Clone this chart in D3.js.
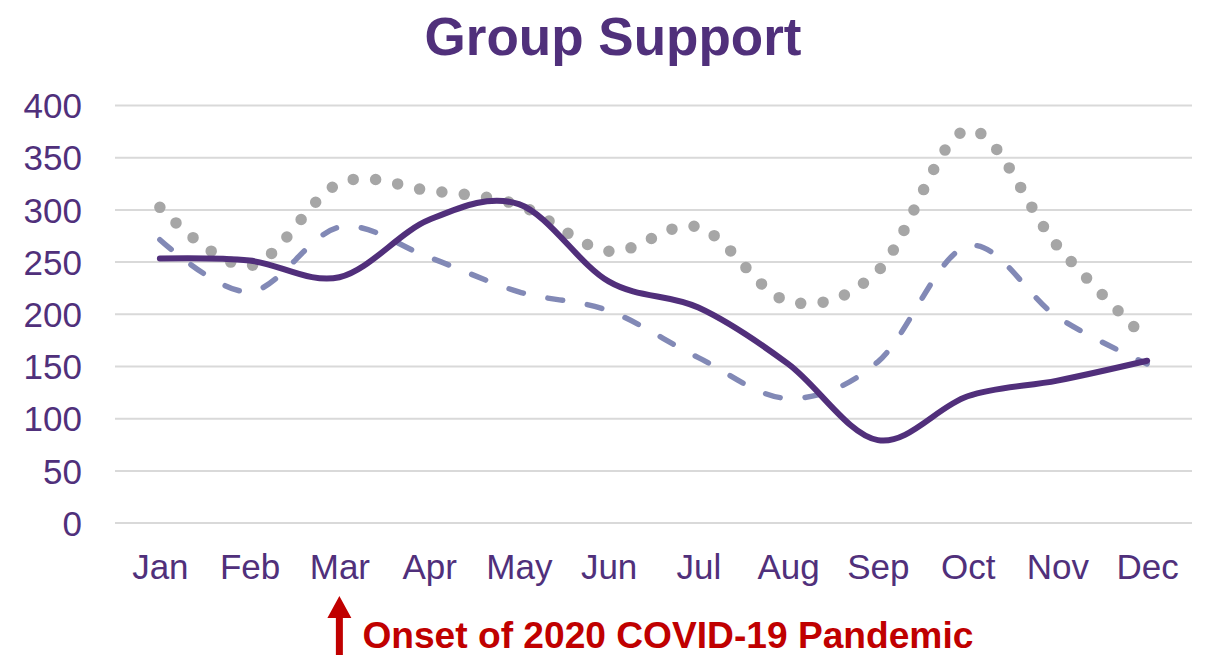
<!DOCTYPE html>
<html>
<head>
<meta charset="utf-8">
<script src="https://cdn.jsdelivr.net/npm/d3@7"></script>
<style>
    body { margin: 0; background: #ffffff; }
    svg { display: block; font-family: "Liberation Sans", Arial, sans-serif; }
</style>
</head>
<body>
<div id="line-viz"></div>
<script>
// chart data
const months = ["Jan", "Feb", "Mar", "Apr", "May", "Jun", "Jul", "Aug", "Sep", "Oct", "Nov", "Dec"];
const solidValues = [253, 251, 235, 290, 305, 231, 206, 152, 79, 121, 136, 155];
const dashedValues = [271, 221, 283, 254, 221, 203, 158, 119, 154, 265, 197, 152];
const dottedValues = [302, 246, 325, 318, 304, 260, 283, 212, 241, 376, 265, 175];
const yTicks = [0, 50, 100, 150, 200, 250, 300, 350, 400];

const lineChart = () => {

    // set the dimensions of the graph
    const width = 1212;
    const height = 655;
    const plotLeft = 115;
    const plotRight = 1192;
    const plotTop = 105;
    const plotBottom = 522.6;
    const textColor = "#50307b";

    const svg = d3.select("#line-viz")
        .append("svg")
        .attr("width", width)
        .attr("height", height);

    // scales
    const x = d3.scalePoint()
        .domain(months)
        .range([plotLeft, plotRight])
        .padding(0.5);

    const y = d3.scaleLinear()
        .domain([0, 400])
        .range([plotBottom, plotTop]);

    // horizontal gridlines + y labels
    const yAxis = d3.axisLeft(y)
        .tickValues(yTicks)
        .tickSize(-(plotRight - plotLeft))
        .tickPadding(33);

    svg.append("g")
        .attr("transform", `translate(${plotLeft},0)`)
        .call(yAxis)
        .call(g => g.select(".domain").remove())
        .call(g => g.selectAll(".tick line")
            .attr("stroke", "#d9d9d9")
            .attr("stroke-width", 2))
        .call(g => g.selectAll(".tick text")
            .attr("fill", textColor)
            .attr("font-size", 35)
            .attr("dy", "0.36em"));

    // month labels
    const xAxis = d3.axisBottom(x).tickSize(0).tickPadding(0);

    svg.append("g")
        .attr("transform", `translate(0,${plotBottom})`)
        .call(xAxis)
        .call(g => g.select(".domain").remove())
        .call(g => g.selectAll(".tick text")
            .attr("fill", textColor)
            .attr("font-size", 35)
            .attr("dy", 56));

    // smoothed lines (excel-like smoothing)
    const line = d3.line()
        .x((d, i) => x(months[i]))
        .y(d => y(d))
        .curve(d3.curveCardinal.tension(0));

    svg.append("path")
        .datum(dottedValues)
        .attr("d", line)
        .attr("fill", "none")
        .attr("stroke", "#a6a6a6")
        .attr("stroke-width", 11.5)
        .attr("stroke-linecap", "round")
        .attr("stroke-dasharray", "0, 22.5");

    svg.append("path")
        .datum(dashedValues)
        .attr("d", line)
        .attr("fill", "none")
        .attr("stroke", "#8289b6")
        .attr("stroke-width", 5.5)
        .attr("stroke-linecap", "round")
        .attr("stroke-dasharray", "15, 25");

    svg.append("path")
        .datum(solidValues)
        .attr("d", line)
        .attr("fill", "none")
        .attr("stroke", "#512f7b")
        .attr("stroke-width", 6)
        .attr("stroke-linecap", "round");

    // title
    svg.append("text")
        .attr("x", 613)
        .attr("y", 55)
        .attr("text-anchor", "middle")
        .attr("font-size", 53)
        .attr("font-weight", "bold")
        .attr("fill", textColor)
        .text("Group Support");

    // annotation: arrow under March
    const ax = x("Mar");
    const arrow = d3.path();
    arrow.moveTo(ax, 596);
    arrow.lineTo(ax + 12, 618);
    arrow.lineTo(ax + 3.5, 618);
    arrow.lineTo(ax + 3.5, 655);
    arrow.lineTo(ax - 3.5, 655);
    arrow.lineTo(ax - 3.5, 618);
    arrow.lineTo(ax - 12, 618);
    arrow.closePath();

    svg.append("path")
        .attr("d", arrow.toString())
        .attr("fill", "#c00000");

    svg.append("text")
        .attr("x", ax + 23)
        .attr("y", 648)
        .attr("font-size", 37)
        .attr("font-weight", "bold")
        .attr("fill", "#c00000")
        .attr("textLength", 611)
        .attr("lengthAdjust", "spacingAndGlyphs")
        .text("Onset of 2020 COVID-19 Pandemic");
}

lineChart();
</script>
</body>
</html>
